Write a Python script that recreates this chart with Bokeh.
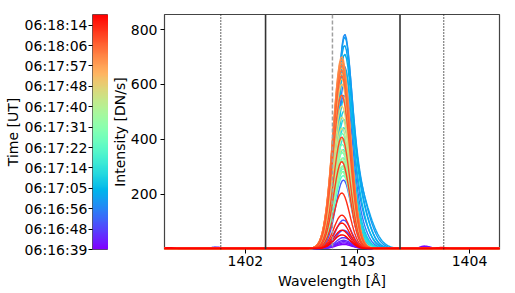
import numpy as np
from bokeh.plotting import figure
from bokeh.models import Range1d, FixedTicker, LinearColorMapper, Span, ColumnDataSource
from bokeh.layouts import row
from bokeh.transform import linear_cmap
from bokeh.embed import file_html
from bokeh.resources import INLINE

# ---------------- data ----------------
time_labels = ["06:16:39", "06:16:48", "06:16:56", "06:17:05", "06:17:14", "06:17:22",
               "06:17:31", "06:17:40", "06:17:48", "06:17:57", "06:18:06", "06:18:14"]
time_ticks = [0, 5, 10, 15, 20, 25, 30, 35, 40, 45, 50, 55]
time_top = 57.6           # colour-bar top (exposure index units)

x_ticks = [1402, 1403, 1404]
y_ticks = [200, 400, 600, 800]
x_lim = [1401.278, 1404.268]
y_lim = [-2, 855]

solid_lines = [1402.18, 1403.38]
dotted_lines = [1401.78, 1403.77]
dashed_lines = [1402.777]

# line-profile parameters per exposure (time order)
core_amp = [15, 20, 25, 30,                             # purple
            40, 67, 104, 250,                           # violet
            520, 504, 534,                              # blue
            619, 583, 552, 554, 535,                    # sky blue (broad)
            458, 431, 408, 385, 359,                    # cyan
            337, 307, 277, 257, 242, 267,               # aquamarine
            420, 380, 350, 320, 300,                    # green
            280, 300, 330, 360, 400,                    # yellow-green
            440, 480, 520, 560, 600,                    # light orange
            620, 640, 660, 680, 700, 690, 670, 650, 630, 560,   # orange
            407, 317, 203, 122, 93, 67, 50]             # red
core_center = [1402.878, 1402.878, 1402.877, 1402.877,
               1402.876, 1402.876, 1402.875, 1402.875,
               1402.875, 1402.876, 1402.876,
               1402.877, 1402.877, 1402.876, 1402.876, 1402.875,
               1402.872, 1402.872, 1402.871, 1402.871, 1402.870,
               1402.867, 1402.867, 1402.867, 1402.866, 1402.866, 1402.866,
               1402.865, 1402.865, 1402.865, 1402.864, 1402.864,
               1402.864, 1402.863, 1402.863, 1402.863, 1402.862,
               1402.862, 1402.862, 1402.861, 1402.861, 1402.861,
               1402.860, 1402.860, 1402.860, 1402.860, 1402.860,
               1402.859, 1402.859, 1402.859, 1402.859, 1402.859,
               1402.860, 1402.860, 1402.860, 1402.861, 1402.861, 1402.862, 1402.862]
core_sigma = [0.070, 0.070, 0.070, 0.070,
              0.070, 0.070, 0.070, 0.070,
              0.070, 0.065, 0.065,
              0.065, 0.065, 0.065, 0.065, 0.065,
              0.070, 0.070, 0.070, 0.070, 0.070,
              0.074, 0.074, 0.074, 0.074, 0.074, 0.074,
              0.075, 0.075, 0.075, 0.075, 0.075,
              0.075, 0.075, 0.075, 0.075, 0.076,
              0.076, 0.076, 0.077, 0.077, 0.077,
              0.078, 0.078, 0.078, 0.078, 0.078,
              0.078, 0.078, 0.078, 0.077, 0.077,
              0.074, 0.073, 0.072, 0.071, 0.070, 0.070, 0.070]
wing_amp = [0, 0, 0, 0,
            0, 0, 0, 0,
            60, 150, 180,
            240, 260, 250, 230, 200,
            120, 100, 90, 80, 60,
            40, 40, 40, 40, 40, 40,
            0, 0, 0, 0, 0,
            0, 0, 0, 0, 0,
            0, 0, 0, 0, 0,
            0, 0, 0, 0, 0, 0, 0, 0, 0, 0,
            0, 0, 0, 0, 0, 0, 0]
wing_center = [1402.95, 1402.95, 1402.95, 1402.95,
               1402.95, 1402.95, 1402.95, 1402.95,
               1402.95, 1402.96, 1402.96,
               1402.97, 1402.97, 1402.97, 1402.97, 1402.97,
               1402.95, 1402.95, 1402.95, 1402.95, 1402.95,
               1402.95, 1402.95, 1402.95, 1402.95, 1402.95, 1402.95,
               1402.95, 1402.95, 1402.95, 1402.95, 1402.95,
               1402.95, 1402.95, 1402.95, 1402.95, 1402.95,
               1402.95, 1402.95, 1402.95, 1402.95, 1402.95,
               1402.95, 1402.95, 1402.95, 1402.95, 1402.95,
               1402.95, 1402.95, 1402.95, 1402.95, 1402.95,
               1402.95, 1402.95, 1402.95, 1402.95, 1402.95, 1402.95, 1402.95]
wing_sigma = [0.08, 0.08, 0.08, 0.08,
              0.08, 0.08, 0.08, 0.08,
              0.08, 0.09, 0.10,
              0.10, 0.11, 0.12, 0.10, 0.09,
              0.09, 0.09, 0.09, 0.09, 0.09,
              0.08, 0.08, 0.08, 0.08, 0.08, 0.08,
              0.08, 0.08, 0.08, 0.08, 0.08,
              0.08, 0.08, 0.08, 0.08, 0.08,
              0.08, 0.08, 0.08, 0.08, 0.08,
              0.08, 0.08, 0.08, 0.08, 0.08,
              0.08, 0.08, 0.08, 0.08, 0.08,
              0.08, 0.08, 0.08, 0.08, 0.08, 0.08, 0.08]
continuum = 1.5
# small features near the continuum: (exposure index, wavelength, amplitude)
minor_idx = [0, 1, 3, 9, 27, 56, 12, 22, 5, 47, 30, 2, 40, 58, 18, 44]
minor_center = [1403.60, 1403.62, 1401.74, 1401.72, 1402.45, 1403.75, 1401.50, 1401.92,
                1402.35, 1402.05, 1404.20, 1404.05, 1402.55, 1401.32, 1403.50, 1403.95]
minor_amp = [9, 7, 5, 4, 3, 4, 3, 3, 3, 3, 3, 3, 3, 3, 3, 3]

# ---------------- build profiles ----------------
wl = np.arange(1401.20, 1404.35, 0.0127)
n_exp = len(core_amp)
profiles = []
for i in range(n_exp):
    y = continuum + core_amp[i] * np.exp(-0.5 * ((wl - core_center[i]) / core_sigma[i]) ** 2)
    y = y + wing_amp[i] * np.exp(-0.5 * ((wl - wing_center[i]) / wing_sigma[i]) ** 2)
    for k, j in enumerate(minor_idx):
        if j == i:
            y = y + minor_amp[k] * np.exp(-0.5 * ((wl - minor_center[k]) / 0.04) ** 2)
    profiles.append(y)


def rainbow(n=256):
    out = []
    for k in range(n):
        x = k / (n - 1)
        r = min(1.0, abs(2 * x - 0.5))
        g = max(0.0, np.sin(np.pi * x))
        b = max(0.0, np.cos(np.pi * x / 2))
        out.append("#%02x%02x%02x" % (int(round(r * 255)), int(round(g * 255)), int(round(b * 255))))
    return out


pal = rainbow(256)
mapper = LinearColorMapper(palette=pal, low=0, high=time_top)

FONT = "DejaVu Sans"
FS = "14px"

# ---------------- colour bar figure ----------------
p1 = figure(width=108, height=293, x_range=Range1d(0, 1), y_range=Range1d(0, time_top),
            output_backend="svg", toolbar_location=None, x_axis_location=None,
            min_border_left=92, min_border_right=0, min_border_top=14, min_border_bottom=44)
grad = np.linspace(0, time_top, 256).reshape(-1, 1)
p1.image(image=[grad], x=0, y=0, dw=1, dh=time_top, color_mapper=mapper)
p1.grid.visible = False
ax = p1.yaxis[0]
ax.ticker = FixedTicker(ticks=time_ticks)
ax.major_label_overrides = {t: lab for t, lab in zip(time_ticks, time_labels)}
ax.axis_label = "Time [UT]"
ax.axis_label_text_font = FONT
ax.axis_label_text_font_size = FS
ax.axis_label_text_font_style = "normal"
ax.axis_label_text_color = "black"
ax.axis_label_standoff = 1
ax.major_label_text_font = FONT
ax.major_label_text_font_size = FS
ax.major_label_text_color = "black"
ax.major_label_standoff = 1
ax.axis_line_color = None
ax.major_tick_out = 4
ax.major_tick_in = 0
ax.major_tick_line_color = "black"
ax.minor_tick_line_color = None
p1.outline_line_color = "#555555"
p1.outline_line_width = 1

# ---------------- main figure ----------------
p2 = figure(width=407, height=293, x_range=Range1d(*x_lim), y_range=Range1d(*y_lim),
            output_backend="svg", toolbar_location=None,
            min_border_left=56, min_border_right=16, min_border_top=14, min_border_bottom=44)
p2.grid.visible = False

src = ColumnDataSource(dict(xs=[wl] * n_exp, ys=profiles, idx=list(range(n_exp))))
p2.multi_line("xs", "ys", source=src, line_width=1.4,
              line_color=linear_cmap("idx", pal, 0, time_top))

for xv in solid_lines:
    p2.add_layout(Span(location=xv, dimension="height", line_color="#333333", line_width=1.6))
for xv in dotted_lines:
    p2.add_layout(Span(location=xv, dimension="height", line_color="#111111", line_width=1.3,
                       line_dash="1 2"))
for xv in dashed_lines:
    p2.add_layout(Span(location=xv, dimension="height", line_color="#a0a0a0", line_width=1.5,
                       line_dash="4 2"))

for a, ticks, lab in [(p2.xaxis[0], x_ticks, "Wavelength [Å]"),
                      (p2.yaxis[0], y_ticks, "Intensity [DN/s]")]:
    a.ticker = FixedTicker(ticks=ticks)
    a.axis_label = lab
    a.axis_label_text_font = FONT
    a.axis_label_text_font_size = FS
    a.axis_label_text_font_style = "normal"
    a.axis_label_text_color = "black"
    a.major_label_text_font = FONT
    a.major_label_text_font_size = FS
    a.major_label_text_color = "black"
    a.axis_line_color = None
    a.major_tick_out = 4
    a.major_tick_in = 0
    a.major_tick_line_color = "black"
    a.minor_tick_line_color = None
p2.xaxis[0].major_label_standoff = 2
p2.xaxis[0].axis_label_standoff = 4
p2.yaxis[0].major_label_standoff = 3
p2.yaxis[0].axis_label_standoff = 0
p2.outline_line_color = "#444444"
p2.outline_line_width = 1.2

layout = row(p1, p2)
open("out.html", "w").write(file_html(layout, INLINE))
